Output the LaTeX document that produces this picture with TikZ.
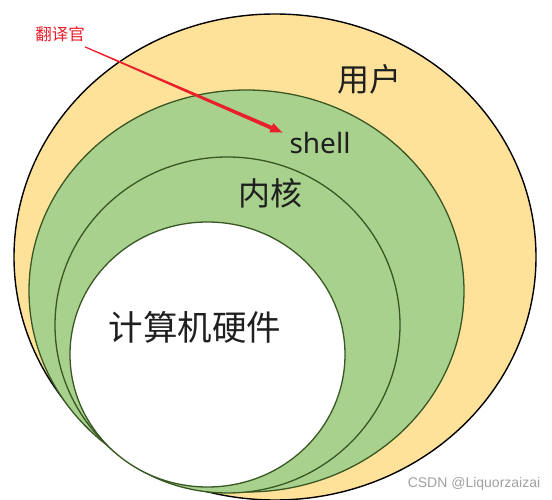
\documentclass[tikz,border=0pt]{standalone}
\usepackage{fontspec}
\setmainfont{Noto Sans}
\newfontfamily\cjk{Noto Sans CJK SC}
\newfontfamily\wmfont{Liberation Sans}
\usetikzlibrary{calc}
\definecolor{ylw}{HTML}{FFE29A}
\definecolor{grn}{HTML}{A9D18E}
\definecolor{dgrn}{HTML}{385723}
\definecolor{arrred}{HTML}{E8202A}
\definecolor{wmgray}{HTML}{A0A0A0}
\begin{document}
\begin{tikzpicture}[x=1pt,y=-1pt,
  outerring/.style={fill=ylw,draw=black,line width=1.4pt},
  greenring/.style={fill=grn,draw=dgrn,line width=1.3pt},
  whitering/.style={fill=white,draw=dgrn,line width=1.3pt},
  biglbl/.style={inner sep=0pt,text=black!88,font=\cjk\fontsize{32}{32}\selectfont},
  shelllbl/.style={inner sep=0pt,text=black!88,font=\fontsize{28}{28}\selectfont},
  redlbl/.style={inner sep=0pt,text=arrred,font=\cjk\fontsize{16.5}{16.5}\selectfont},
  wmlbl/.style={inner sep=0pt,text=wmgray,font=\wmfont\fontsize{14}{14}\selectfont}]
\useasboundingbox (0,0) rectangle (552,500);
\begin{scope}
\clip (0,0) rectangle (552,500);
\path[outerring] (275,257) ellipse [x radius=261, y radius=243];
\path[greenring] (246.5,291) ellipse [x radius=217.5, y radius=201];
\path[greenring] (227.5,325) ellipse [x radius=172.5, y radius=168];
\path[whitering] (207.5,354.5) ellipse [x radius=137.5, y radius=132.5];
\end{scope}

\node[biglbl] (user) at (369,79) {用户};
\node[shelllbl] (shell) at (320,143) {shell};
\node[biglbl] (kernel) at (270,193) {内核};
\node[biglbl,font=\cjk\fontsize{34.5}{34.5}\selectfont] (hw) at (195,327) {计算机硬件};
\node[redlbl] (fy) at (60,34.5) {翻译官};
\node[wmlbl] (wm) at (474,484) {CSDN @Liquorzaizai};

\coordinate (as) at ($(fy.south east)+(0,4.5)$);
\coordinate (at) at ($(shell.north west)+(-7,0.5)$);
\coordinate (ab) at ($(at)!12pt!(as)$);
\fill[arrred] ($(as)!0.6pt!90:(at)$) -- ($(ab)!2pt!-90:(as)$) -- ($(ab)!5pt!-90:(as)$)
  -- (at) -- ($(ab)!5pt!90:(as)$) -- ($(ab)!2pt!90:(as)$) -- ($(as)!0.6pt!-90:(at)$) -- cycle;
\end{tikzpicture}
\end{document}
